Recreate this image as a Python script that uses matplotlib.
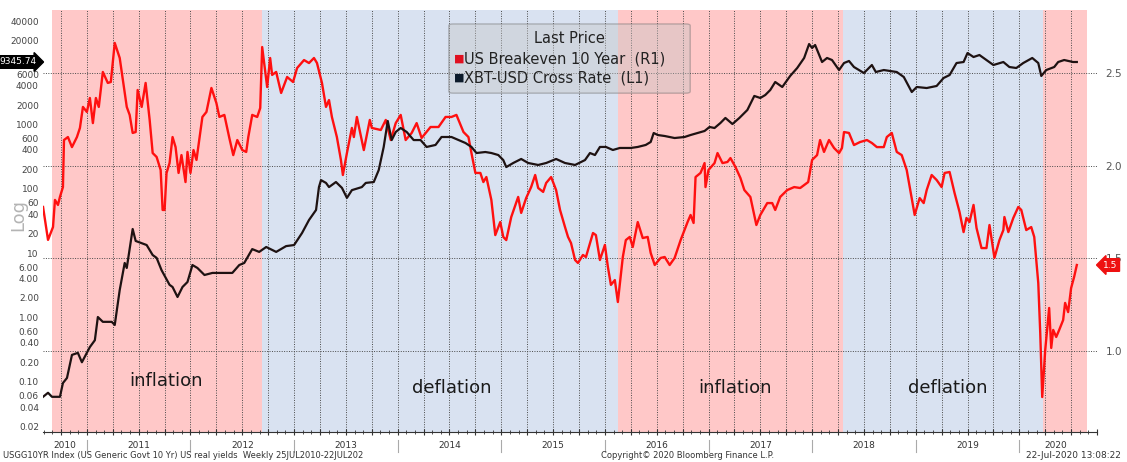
import matplotlib
matplotlib.use('Agg')
import matplotlib.pyplot as plt
import matplotlib.transforms as mtransforms
from matplotlib.patches import FancyBboxPatch
import numpy as np

# weekly-ish samples, x in decimal years
btc_dates = [
    2010.577, 2010.625, 2010.663, 2010.740, 2010.769, 2010.808, 2010.856, 2010.913, 2010.952, 2011.029,
    2011.077, 2011.106, 2011.154, 2011.240, 2011.269, 2011.317, 2011.365, 2011.385, 2011.442, 2011.471,
    2011.577, 2011.635, 2011.673, 2011.721, 2011.798, 2011.827, 2011.875, 2011.923, 2011.971, 2012.019,
    2012.067, 2012.135, 2012.212, 2012.346, 2012.404, 2012.471, 2012.519, 2012.596, 2012.663, 2012.731,
    2012.827, 2012.923, 2013.000, 2013.077, 2013.144, 2013.212, 2013.240, 2013.260, 2013.308, 2013.337,
    2013.404, 2013.462, 2013.510, 2013.558, 2013.654, 2013.692, 2013.769, 2013.817, 2013.865, 2013.904,
    2013.942, 2013.981, 2014.029, 2014.087, 2014.154, 2014.221, 2014.279, 2014.365, 2014.423, 2014.519,
    2014.587, 2014.654, 2014.712, 2014.760, 2014.846, 2014.904, 2014.971, 2015.019, 2015.048, 2015.115,
    2015.192, 2015.260, 2015.356, 2015.433, 2015.529, 2015.615, 2015.712, 2015.808, 2015.856, 2015.904,
    2015.952, 2016.010, 2016.077, 2016.144, 2016.250, 2016.317, 2016.394, 2016.442, 2016.471, 2016.510,
    2016.577, 2016.673, 2016.769, 2016.827, 2016.894, 2016.962, 2017.010, 2017.058, 2017.115, 2017.163,
    2017.231, 2017.298, 2017.375, 2017.442, 2017.500, 2017.548, 2017.596, 2017.644, 2017.712, 2017.788,
    2017.856, 2017.923, 2017.971, 2018.000, 2018.029, 2018.096, 2018.144, 2018.192, 2018.260, 2018.308,
    2018.356, 2018.404, 2018.500, 2018.577, 2018.615, 2018.692, 2018.817, 2018.885, 2018.962, 2019.010,
    2019.106, 2019.202, 2019.269, 2019.327, 2019.394, 2019.462, 2019.500, 2019.558, 2019.615, 2019.683,
    2019.750, 2019.846, 2019.904, 2019.971, 2020.038, 2020.125, 2020.183, 2020.212, 2020.260, 2020.337,
    2020.375, 2020.433, 2020.519, 2020.555]
btc_vals = [
    0.058, 0.067, 0.058, 0.058, 0.095, 0.114, 0.26, 0.28, 0.20, 0.345,
    0.44, 1.01, 0.85, 0.85, 0.76, 2.66, 7.0, 5.85, 23.6, 15.4,
    13.3, 9.3, 8.4, 5.4, 3.2, 2.96, 2.07, 2.96, 3.54, 6.5,
    5.85, 4.55, 4.9, 4.9, 4.9, 6.5, 7.0, 11.5, 10.4, 12.4,
    10.4, 12.8, 13.3, 20.5, 32.6, 46.7, 106, 136, 123, 106,
    127, 103, 72, 95, 106, 123, 127, 195, 446, 1130,
    571, 762, 879, 762, 571, 571, 446, 479, 637, 637,
    571, 514, 446, 359, 372, 359, 334, 279, 217, 251,
    290, 251, 234, 251, 290, 251, 234, 279, 359, 334,
    446, 446, 400, 430, 430, 446, 479, 533, 735, 684,
    660, 614, 637, 684, 735, 790, 912, 879, 1052, 1260,
    1014, 1260, 1676, 2770, 2576, 2866, 3426, 4564, 3818, 5664,
    7536, 10790, 17780, 15420, 17190, 9340, 10790, 10030, 7010, 9010,
    9690, 7810, 6300, 8390, 6530, 7010, 6530, 5460, 3190, 3818,
    3680, 3960, 5270, 5860, 9010, 9340, 12880, 11170, 12000, 10030,
    8390, 9340, 7810, 7536, 9010, 10790, 9010, 5664, 7010, 7810,
    9340, 10030, 9340, 9345.74]

be_dates = [
    2010.577, 2010.625, 2010.673, 2010.692, 2010.721, 2010.740, 2010.769, 2010.779, 2010.817, 2010.856,
    2010.904, 2010.933, 2010.962, 2011.000, 2011.029, 2011.058, 2011.087, 2011.115, 2011.154, 2011.202,
    2011.231, 2011.269, 2011.317, 2011.385, 2011.413, 2011.442, 2011.471, 2011.490, 2011.529, 2011.567,
    2011.606, 2011.635, 2011.673, 2011.712, 2011.731, 2011.750, 2011.769, 2011.798, 2011.827, 2011.856,
    2011.885, 2011.913, 2011.952, 2011.971, 2012.000, 2012.029, 2012.058, 2012.115, 2012.154, 2012.202,
    2012.250, 2012.279, 2012.327, 2012.375, 2012.413, 2012.452, 2012.500, 2012.538, 2012.558, 2012.596,
    2012.644, 2012.673, 2012.692, 2012.740, 2012.769, 2012.788, 2012.827, 2012.875, 2012.933, 2012.990,
    2013.029, 2013.096, 2013.144, 2013.192, 2013.221, 2013.269, 2013.308, 2013.337, 2013.365, 2013.413,
    2013.452, 2013.471, 2013.510, 2013.558, 2013.577, 2013.606, 2013.673, 2013.731, 2013.750, 2013.837,
    2013.885, 2013.933, 2013.981, 2014.029, 2014.077, 2014.135, 2014.183, 2014.231, 2014.317, 2014.394,
    2014.462, 2014.519, 2014.567, 2014.635, 2014.683, 2014.712, 2014.750, 2014.798, 2014.827, 2014.856,
    2014.904, 2014.942, 2014.990, 2015.019, 2015.048, 2015.096, 2015.163, 2015.192, 2015.240, 2015.288,
    2015.327, 2015.356, 2015.404, 2015.433, 2015.481, 2015.529, 2015.567, 2015.615, 2015.644, 2015.673,
    2015.712, 2015.740, 2015.788, 2015.817, 2015.856, 2015.885, 2015.913, 2015.952, 2016.000, 2016.029,
    2016.058, 2016.096, 2016.125, 2016.173, 2016.202, 2016.240, 2016.269, 2016.317, 2016.365, 2016.413,
    2016.442, 2016.481, 2016.538, 2016.577, 2016.625, 2016.673, 2016.731, 2016.798, 2016.827, 2016.856,
    2016.875, 2016.923, 2016.962, 2016.971, 2017.000, 2017.058, 2017.087, 2017.135, 2017.183, 2017.212,
    2017.260, 2017.308, 2017.346, 2017.404, 2017.462, 2017.500, 2017.567, 2017.615, 2017.644, 2017.692,
    2017.760, 2017.827, 2017.885, 2017.962, 2018.000, 2018.048, 2018.077, 2018.115, 2018.163, 2018.212,
    2018.260, 2018.288, 2018.308, 2018.356, 2018.404, 2018.462, 2018.529, 2018.577, 2018.625, 2018.692,
    2018.721, 2018.769, 2018.817, 2018.865, 2018.913, 2018.942, 2018.990, 2019.038, 2019.077, 2019.106,
    2019.154, 2019.202, 2019.250, 2019.279, 2019.327, 2019.375, 2019.423, 2019.462, 2019.490, 2019.519,
    2019.558, 2019.587, 2019.635, 2019.683, 2019.712, 2019.760, 2019.808, 2019.846, 2019.856, 2019.894,
    2019.942, 2019.990, 2020.019, 2020.067, 2020.115, 2020.144, 2020.183, 2020.202, 2020.221, 2020.250,
    2020.288, 2020.308, 2020.327, 2020.356, 2020.385, 2020.423, 2020.442, 2020.471, 2020.500, 2020.529,
    2020.555]
be_vals = [
    1.777, 1.60, 1.669, 1.815, 1.788, 1.831, 1.884, 2.137, 2.153, 2.099,
    2.153, 2.202, 2.315, 2.288, 2.363, 2.228, 2.363, 2.315, 2.503, 2.444,
    2.449, 2.659, 2.578, 2.315, 2.272, 2.175, 2.180, 2.406, 2.315, 2.444,
    2.245, 2.067, 2.046, 1.976, 1.761, 1.761, 1.960, 2.013, 2.153, 2.099,
    1.960, 2.056, 1.911, 2.073, 1.960, 2.083, 2.030, 2.261, 2.288, 2.417,
    2.336, 2.261, 2.272, 2.148, 2.056, 2.137, 2.083, 2.073, 2.153, 2.272,
    2.261, 2.309, 2.637, 2.422, 2.578, 2.487, 2.503, 2.390, 2.476, 2.449,
    2.524, 2.567, 2.551, 2.578, 2.551, 2.444, 2.315, 2.352, 2.261, 2.153,
    2.030, 1.949, 2.067, 2.202, 2.153, 2.261, 2.083, 2.245, 2.202, 2.191,
    2.245, 2.137, 2.228, 2.272, 2.137, 2.175, 2.228, 2.148, 2.207, 2.207,
    2.261, 2.261, 2.272, 2.180, 2.153, 2.067, 1.960, 1.960, 1.911, 1.938,
    1.815, 1.626, 1.696, 1.616, 1.599, 1.723, 1.831, 1.745, 1.825, 1.884,
    1.949, 1.879, 1.858, 1.906, 1.938, 1.868, 1.761, 1.669, 1.616, 1.583,
    1.492, 1.476, 1.519, 1.508, 1.583, 1.637, 1.626, 1.492, 1.573, 1.454,
    1.358, 1.384, 1.266, 1.508, 1.599, 1.616, 1.562, 1.696, 1.610, 1.616,
    1.530, 1.465, 1.503, 1.508, 1.465, 1.503, 1.599, 1.696, 1.734, 1.691,
    1.938, 1.960, 2.013, 1.884, 1.976, 2.013, 2.067, 2.013, 2.019, 2.040,
    1.992, 1.933, 1.868, 1.831, 1.680, 1.734, 1.798, 1.798, 1.761, 1.831,
    1.868, 1.884, 1.879, 1.911, 2.030, 2.056, 2.137, 2.073, 2.137, 2.094,
    2.067, 2.094, 2.180, 2.175, 2.110, 2.126, 2.137, 2.121, 2.099, 2.099,
    2.153, 2.175, 2.073, 2.056, 1.976, 1.884, 1.734, 1.825, 1.798, 1.868,
    1.949, 1.922, 1.884, 1.960, 1.965, 1.852, 1.750, 1.642, 1.718, 1.696,
    1.788, 1.664, 1.556, 1.556, 1.680, 1.503, 1.599, 1.653, 1.723, 1.642,
    1.718, 1.777, 1.761, 1.653, 1.669, 1.616, 1.368, 1.099, 0.755, 1.008,
    1.234, 1.019, 1.116, 1.078, 1.116, 1.169, 1.261, 1.212, 1.341, 1.401,
    1.465]

# regime bands
band_start = [2010.663, 2012.692, 2016.125, 2018.298, 2020.231]
band_end = [2012.692, 2016.125, 2018.298, 2020.231, 2020.654]
band_kind = ['inflation', 'deflation', 'inflation', 'deflation', 'inflation']
band_text_x = [2011.760, 2014.519, 2017.260, 2019.308]
band_text = ['inflation', 'deflation', 'inflation', 'deflation']

left_ticks = [0.02, 0.04, 0.06, 0.1, 0.2, 0.4, 0.6, 1, 2, 4, 6, 10, 20, 40, 60,
              100, 200, 400, 600, 1000, 2000, 4000, 6000, 20000, 40000]
right_ticks = [1.0, 1.5, 2.0, 2.5]
years = list(range(2010, 2021))

pink = '#ffc8c8'
blue = '#d9e2f1'
red = '#ff1010'
dark = '#1e1212'
grid_c = '#4a4a4a'

x_lo, x_hi = 2010.577, 2020.712

fig = plt.figure(figsize=(11.27, 4.62), dpi=100)
ax = fig.add_axes([0.0382, 0.0649, 0.9352, 0.9134])
ax2 = ax.twinx()

for s, e, k in zip(band_start, band_end, band_kind):
    ax.axvspan(s, e, color=pink if k == 'inflation' else blue, lw=0, zorder=0)

# red series on the host (right scale), black on the twin (left log scale)
ax.plot(be_dates, be_vals, color=red, lw=1.7, zorder=3)
ax2.plot(btc_dates, btc_vals, color=dark, lw=1.6, zorder=3)

ax.set_xlim(x_lo, x_hi)
ax.set_ylim(0.567, 2.836)
ax2.set_yscale('log')
ax2.set_ylim(0.01644, 60100)

ax.yaxis.tick_right()
ax2.yaxis.tick_left()
ax.set_yticks(right_ticks)
ax.set_yticklabels(['%.1f' % v for v in right_ticks])
ax.tick_params(axis='y', length=0, pad=6, labelsize=7.5, labelcolor='#555555')

ax2.yaxis.set_major_locator(matplotlib.ticker.FixedLocator(left_ticks))
ax2.yaxis.set_minor_locator(matplotlib.ticker.NullLocator())
ax2.set_yticklabels(['%.2f' % v if v < 10 else '%d' % v for v in left_ticks])
ax2.tick_params(axis='y', length=0, pad=3, labelsize=6.5, labelcolor='#444444')

quarters = np.arange(2010.75, 2020.76, 0.25)
months = [2010 + m / 12.0 for m in range(7, 129)]
ax.set_xticks(quarters)
ax.set_xticks(months, minor=True)
ax.tick_params(axis='x', which='major', direction='inout', length=5, color='#333333', labelbottom=False)
ax.tick_params(axis='x', which='minor', direction='inout', length=3, color='#333333')

ax.grid(True, which='major', axis='both', linestyle=(0, (1, 1.5)), color=grid_c, lw=0.7, zorder=1)

for a in (ax, ax2):
    for sp in ('left', 'right', 'top'):
        a.spines[sp].set_visible(False)
ax2.spines['bottom'].set_visible(False)
ax.spines['bottom'].set_color('#333333')

xtr = ax.get_xaxis_transform()
for yr in years:
    lo = max(yr, x_lo)
    hi = min(yr + 1, x_hi)
    ax.text((lo + hi) / 2, -0.033, str(yr), transform=xtr, ha='center', va='center',
            fontsize=6.5, color='#333333')
    if yr > 2010:
        ax.plot([yr, yr], [-0.018, -0.048], transform=xtr, color='#aaaaaa', lw=0.8, clip_on=False)

for tx, t in zip(band_text_x, band_text):
    yy = 0.121 if tx < 2012 else 0.104
    ax.text(tx, yy, t, transform=xtr, ha='center', va='center', fontsize=13, color='#1a1a1a', zorder=4)

# last price tags
tag_l = mtransforms.blended_transform_factory(ax2.transAxes, ax2.transData)
ax2.text(-0.006, btc_vals[-1], '%.2f' % btc_vals[-1], transform=tag_l, ha='right', va='center',
         fontsize=6.5, color='white',
         bbox=dict(boxstyle='rarrow,pad=0.2', fc='black', ec='black'))
tag_r = mtransforms.blended_transform_factory(ax.transAxes, ax.transData)
ax.text(1.006, be_vals[-1], '%.1f' % be_vals[-1], transform=tag_r, ha='left', va='center',
        fontsize=6.5, color='white', clip_on=False,
        bbox=dict(boxstyle='larrow,pad=0.2', fc='#ee1111', ec='#ee1111'))

# legend box
box = FancyBboxPatch((0.385, 0.803), 0.229, 0.164, boxstyle='round,pad=0,rounding_size=0.004',
                     transform=ax2.transAxes, fc='#c4c4c4', ec='#777777', alpha=0.4, lw=1, zorder=5)
ax2.add_patch(box)
ax2.patches[-1].set_edgecolor((0.4, 0.4, 0.4, 0.9))
ax2.text(0.4995, 0.933, 'Last Price', transform=ax2.transAxes, ha='center', va='center',
         fontsize=10.5, color='#222222', zorder=6)
ax2.text(0.390, 0.885, '\u25a0', transform=ax2.transAxes, ha='left', va='center', fontsize=8,
         color='#e01020', zorder=6)
ax2.text(0.399, 0.885, 'US Breakeven 10 Year  (R1)', transform=ax2.transAxes, ha='left', va='center',
         fontsize=10.5, color='#222222', zorder=6)
ax2.text(0.390, 0.840, '\u25a0', transform=ax2.transAxes, ha='left', va='center', fontsize=8,
         color='#0c1a2a', zorder=6)
ax2.text(0.399, 0.840, 'XBT-USD Cross Rate  (L1)', transform=ax2.transAxes, ha='left', va='center',
         fontsize=10.5, color='#222222', zorder=6)

fig.text(18 / 1127, 1 - 215 / 462, 'Log', rotation=90, fontsize=13, color='#b4b4b4',
         ha='center', va='center')
fig.text(3 / 1127, 1 - 455 / 462, 'USGG10YR Index (US Generic Govt 10 Yr) US real yields  Weekly 25JUL2010-22JUL202',
         fontsize=6, color='#333333', ha='left', va='center')
fig.text(601 / 1127, 1 - 456 / 462, 'Copyright\u00a9 2020 Bloomberg Finance L.P.',
         fontsize=6, color='#333333', ha='left', va='center')
fig.text(1121 / 1127, 1 - 456 / 462, '22-Jul-2020 13:08:22',
         fontsize=6.5, color='#333333', ha='right', va='center')

fig.savefig('out.png', dpi=100)
